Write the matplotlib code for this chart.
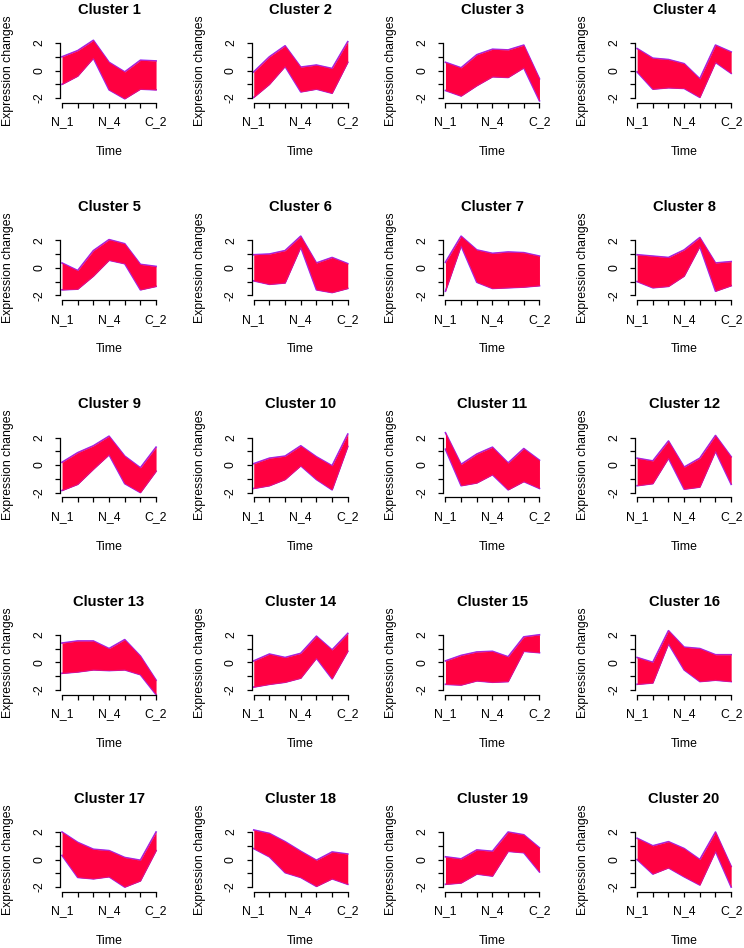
import numpy as np
import matplotlib.pyplot as plt

plt.rcParams['font.family'] = ['Liberation Sans', 'DejaVu Sans']

# time points (only 1st, 4th and last label are shown in the figure)
time_labels = ["N_1", "", "", "N_4", "", "", "C_2"]
titles = ["Cluster %d" % i for i in range(1, 21)]

# lower / upper envelope of the gene profiles in each cluster
lower = [
    [-1.0, -0.4, 0.9, -1.4, -2.05, -1.35, -1.4],   # 1
    [-1.95, -1.0, 0.3, -1.55, -1.35, -1.65, 0.6],  # 2
    [-1.45, -1.85, -1.1, -0.45, -0.5, 0.2, -2.2],  # 3
    [-0.1, -1.35, -1.25, -1.3, -1.95, 0.6, -0.2],  # 4
    [-1.6, -1.55, -0.6, 0.55, 0.3, -1.6, -1.35],   # 5
    [-0.95, -1.2, -1.1, 1.5, -1.6, -1.8, -1.5],    # 6
    [-1.7, 1.6, -1.05, -1.5, -1.45, -1.4, -1.3],   # 7
    [-1.0, -1.45, -1.35, -0.6, 1.55, -1.7, -1.3],  # 8
    [-1.85, -1.4, -0.3, 0.75, -1.35, -2.0, -0.45], # 9
    [-1.7, -1.5, -1.05, -0.05, -1.05, -1.8, 1.35], # 10
    [1.15, -1.5, -1.3, -0.7, -1.8, -1.2, -1.7],    # 11
    [-1.5, -1.35, 0.5, -1.75, -1.6, 1.0, -1.4],    # 12
    [-0.8, -0.7, -0.55, -0.6, -0.55, -0.9, -2.35], # 13
    [-1.8, -1.6, -1.45, -1.15, 0.3, -1.2, 0.8],    # 14
    [-1.6, -1.65, -1.35, -1.45, -1.4, 0.8, 0.7],   # 15
    [-1.6, -1.5, 1.35, -0.55, -1.4, -1.3, -1.4],   # 16
    [0.3, -1.3, -1.4, -1.25, -2.0, -1.55, 0.65],   # 17
    [0.8, 0.2, -0.95, -1.3, -1.95, -1.4, -1.8],    # 18
    [-1.8, -1.7, -1.05, -1.2, 0.6, 0.5, -0.9],     # 19
    [0.0, -1.05, -0.6, -1.25, -1.85, 0.6, -2.0],   # 20
]
upper = [
    [1.0, 1.45, 2.2, 0.6, -0.1, 0.75, 0.7],
    [-0.1, 1.0, 1.8, 0.25, 0.4, 0.15, 2.1],
    [0.6, 0.2, 1.15, 1.55, 1.5, 1.85, -0.6],
    [1.6, 0.9, 0.8, 0.5, -0.6, 1.85, 1.35],
    [0.35, -0.2, 1.25, 2.05, 1.75, 0.25, 0.1],
    [0.95, 1.0, 1.25, 2.3, 0.35, 0.75, 0.3],
    [0.4, 2.3, 1.3, 1.05, 1.15, 1.1, 0.85],
    [0.95, 0.85, 0.75, 1.3, 2.2, 0.35, 0.45],
    [0.2, 0.9, 1.4, 2.1, 0.65, -0.2, 1.3],
    [0.1, 0.5, 0.65, 1.4, 0.6, -0.05, 2.25],
    [2.35, 0.05, 0.8, 1.3, 0.15, 1.2, 0.35],
    [0.5, 0.3, 1.75, -0.15, 0.5, 2.15, 0.6],
    [1.4, 1.55, 1.55, 1.0, 1.65, 0.45, -1.3],
    [0.1, 0.6, 0.35, 0.65, 1.9, 0.9, 2.1],
    [0.1, 0.5, 0.75, 0.8, 0.4, 1.85, 2.0],
    [0.35, 0.0, 2.3, 1.1, 1.0, 0.55, 0.55],
    [2.0, 1.25, 0.75, 0.65, 0.15, -0.05, 2.0],
    [2.15, 1.9, 1.3, 0.6, -0.05, 0.55, 0.4],
    [0.2, 0.05, 0.7, 0.6, 2.0, 1.8, 0.85],
    [1.55, 1.0, 1.3, 0.8, 0.0, 2.0, -0.5],
]

W, H = 744, 948
fig = plt.figure(figsize=(W / 100, H / 100), dpi=100)
x = np.arange(1, 8)

for k in range(20):
    r, c = divmod(k, 4)
    x1 = 62 + 191.7 * c      # pixel of first time point
    y2 = 43 + 197.25 * r     # pixel of y = 2
    ax = fig.add_axes([(x1 - 2) / W, 1 - (y2 + 60) / H, 98.1 / W, 66 / H])
    lo = np.array(lower[k])
    hi = np.array(upper[k])
    ax.fill_between(x, lo, hi, color='#FF0040', lw=0, zorder=2)
    ax.plot(x, hi, color='#8A2BFF', lw=1.2, zorder=1)
    ax.plot(x, lo, color='#8A2BFF', lw=1.2, zorder=1)
    ax.plot(x, hi, color='#E0169A', lw=0.5, alpha=0.8, zorder=3)
    ax.plot(x, lo, color='#E0169A', lw=0.5, alpha=0.8, zorder=3)

    ax.set_xlim(0.87, 7.13)
    ax.set_ylim(-2.36, 2.44)
    for s in ['top', 'right']:
        ax.spines[s].set_visible(False)
    ax.spines['left'].set_bounds(-2, 2)
    ax.spines['bottom'].set_bounds(1, 7)
    for s in ['left', 'bottom']:
        ax.spines[s].set_linewidth(0.9)
    ax.set_xticks(x)
    ax.set_xticklabels(time_labels, fontsize=8.8)
    ax.set_yticks([-2, -1, 0, 1, 2])
    ax.set_yticklabels(['-2', '', '0', '', '2'], fontsize=8.8, rotation=90, va='center')
    ax.tick_params(axis='both', direction='out', length=3.6, width=0.9)
    ax.tick_params(axis='x', pad=6)
    ax.tick_params(axis='y', pad=7)

    cx = (x1 + 47) / W
    fig.text(cx, 1 - (y2 - 33) / H, titles[k], ha='center', va='center',
             fontsize=10.6, fontweight='bold')
    fig.text(cx, 1 - (y2 + 109) / H, 'Time', ha='center', va='center', fontsize=8.8)
    fig.text((x1 - 54) / W, 1 - (y2 + 27.5) / H, 'Expression changes', rotation=90,
             ha='center', va='center', fontsize=8.8)

fig.savefig('out.png', dpi=100)
